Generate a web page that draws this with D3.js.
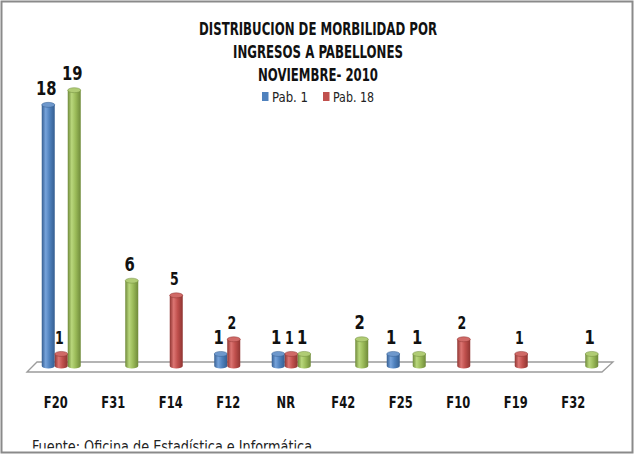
<!DOCTYPE html>
<html>
<head>
<meta charset="utf-8">
<script src="https://cdnjs.cloudflare.com/ajax/libs/d3/7.8.5/d3.min.js"></script>
<style>
  body { margin: 0; background: #fff; }
  svg { display: block; }
</style>
</head>
<body>
<div id="viz"></div>
<script>
// chart data
const categories = ["F20", "F31", "F14", "F12", "NR", "F42", "F25", "F10", "F19", "F32"];
const seriesNames = ["Pab. 1", "Pab. 18", "Pab. 19"];
const pab1 = [18, 0, 0, 1, 1, 0, 1, 0, 0, 0];
const pab18 = [1, 0, 5, 2, 1, 0, 0, 2, 1, 0];
const pab19 = [19, 6, 0, 0, 1, 2, 1, 0, 0, 1];
const legendNames = ["Pab. 1", "Pab. 18"];
const titleLines = ["DISTRIBUCION DE MORBILIDAD POR", "INGRESOS A PABELLONES", "NOVIEMBRE- 2010"];
const footer = "Fuente: Oficina de Estadística e Informática";

const width = 635;
const height = 455;
const font = "'Liberation Sans Narrow', 'DejaVu Sans Condensed', 'Open Sans', sans-serif";

const colors = {
  "Pab. 1": { base: "#4f81bd", light: "#76a3db", dark: "#355e91", top: "#6e98cc" },
  "Pab. 18": { base: "#c0504d", light: "#dc7572", dark: "#8f3532", top: "#d06a67" },
  "Pab. 19": { base: "#9bbb59", light: "#b9d77c", dark: "#6f8a3a", top: "#b0cc74" }
};

const data = categories.map((c, i) => ({
  cat: c,
  values: [pab1[i], pab18[i], pab19[i]].map((v, j) => ({ cat: c, key: seriesNames[j], value: v }))
}));

const svg = d3.select("#viz").append("svg")
  .attr("width", width)
  .attr("height", height);

const defs = svg.append("defs");
seriesNames.forEach((s, i) => {
  const g = defs.append("linearGradient")
    .attr("id", "grad" + i)
    .attr("x1", "0").attr("x2", "1").attr("y1", "0").attr("y2", "0");
  g.append("stop").attr("offset", "0%").attr("stop-color", colors[s].dark);
  g.append("stop").attr("offset", "30%").attr("stop-color", colors[s].light);
  g.append("stop").attr("offset", "60%").attr("stop-color", colors[s].base);
  g.append("stop").attr("offset", "100%").attr("stop-color", colors[s].dark);
});
defs.append("clipPath").attr("id", "clipFoot")
  .append("rect").attr("x", 0).attr("y", 0).attr("width", width).attr("height", 448.5);

// outer frame
svg.append("rect")
  .attr("x", 1.5).attr("y", 1.5)
  .attr("width", 631).attr("height", 451)
  .attr("fill", "#fff")
  .attr("stroke", "#8a8a8a")
  .attr("stroke-width", 2);

// scales
const x0 = d3.scaleBand().domain(categories).range([27, 602]);
const x1 = d3.scaleBand().domain(seriesNames).range([0, 39]);
const y = d3.scaleLinear().domain([0, 19]).range([368.6, 90.2]);
const depth = 5.5;
const baseY = 366;
const ry = 2.5;

// squeeze text to a given width
function fit(sel, w) {
  sel.each(function () {
    const len = this.getComputedTextLength();
    if (Math.abs(len - w) > 1) {
      d3.select(this).attr("textLength", w).attr("lengthAdjust", "spacingAndGlyphs");
    }
  });
}
// narrow text by a factor
function squeeze(sel, k) {
  sel.each(function () {
    const len = this.getComputedTextLength();
    d3.select(this).attr("textLength", len * k).attr("lengthAdjust", "spacingAndGlyphs");
  });
}

// floor
const fl = x0.range();
svg.append("path")
  .attr("d", `M${fl[0]},372 L${fl[0] + 10},362 L${fl[1] + 11},362 L${fl[1]},372 Z`)
  .attr("fill", "#fff")
  .attr("stroke", "#9c9c9c")
  .attr("stroke-width", 1.3);

// bars as cylinders
const groups = svg.append("g").selectAll("g")
  .data(data)
  .join("g")
  .attr("transform", d => `translate(${x0(d.cat) + (x0.bandwidth() - 39) / 2 + depth},0)`);

const bars = groups.selectAll("g.bar")
  .data(d => d.values.filter(v => v.value > 0))
  .join("g")
  .attr("class", "bar");

bars.append("path")
  .attr("d", d => {
    const xl = x1(d.key), w = x1.bandwidth(), rx = w / 2;
    return `M${xl},${y(d.value)} L${xl},${baseY} A${rx},${ry} 0 0 0 ${xl + w},${baseY} L${xl + w},${y(d.value)} Z`;
  })
  .attr("fill", d => "url(#grad" + seriesNames.indexOf(d.key) + ")");

bars.append("ellipse")
  .attr("cx", d => x1(d.key) + x1.bandwidth() / 2)
  .attr("cy", d => y(d.value))
  .attr("rx", x1.bandwidth() / 2)
  .attr("ry", ry)
  .attr("fill", d => colors[d.key].top)
  .attr("stroke", d => colors[d.key].dark)
  .attr("stroke-width", 0.5);

bars.append("text")
  .attr("x", d => x1(d.key) + x1.bandwidth() / 2 - 2)
  .attr("y", d => y(d.value) - 10)
  .attr("text-anchor", "middle")
  .style("font-family", font)
  .style("font-weight", "bold")
  .style("font-size", d => d.key === "Pab. 18" ? "17px" : "20px")
  .attr("fill", "#111")
  .text(d => d.value)
  .call(squeeze, 0.82);

// category labels
svg.append("g").selectAll("text")
  .data(categories)
  .join("text")
  .attr("x", d => x0(d) + x0.bandwidth() / 2)
  .attr("y", 408)
  .attr("text-anchor", "middle")
  .style("font-family", font)
  .style("font-weight", "bold")
  .style("font-size", "15px")
  .attr("fill", "#111")
  .text(d => d)
  .call(squeeze, 0.85);

// title
const titleW = [238, 170, 120];
const titleY = [35, 58, 81];
titleLines.forEach((t, i) => {
  svg.append("text")
    .attr("x", 318)
    .attr("y", titleY[i])
    .attr("text-anchor", "middle")
    .style("font-family", font)
    .style("font-weight", "bold")
    .style("font-size", "17px")
    .attr("fill", "#111")
    .text(t)
    .call(fit, titleW[i]);
});

// legend
const legX = [262, 323];
const legW = [36, 41];
legendNames.forEach((n, i) => {
  svg.append("rect")
    .attr("x", legX[i]).attr("y", 92)
    .attr("width", 6.5).attr("height", 9)
    .attr("fill", colors[n].base);
  svg.append("text")
    .attr("x", legX[i] + 10)
    .attr("y", 102)
    .style("font-family", font)
    .style("font-size", "14px")
    .attr("fill", "#222")
    .text(n)
    .call(fit, legW[i]);
});

// source note, cut by the frame
svg.append("text")
  .attr("x", 32)
  .attr("y", 452)
  .attr("clip-path", "url(#clipFoot)")
  .style("font-family", font)
  .style("font-size", "15px")
  .attr("fill", "#222")
  .text(footer)
  .call(fit, 280);
</script>
</body>
</html>
